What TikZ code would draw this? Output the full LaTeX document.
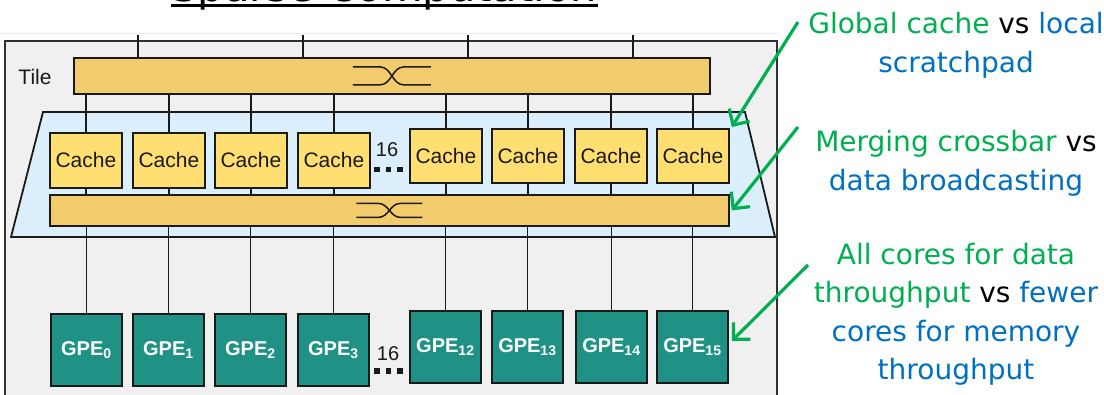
\documentclass[tikz,border=0pt]{standalone}
\usepackage{fontspec}
\setmainfont{Liberation Sans}
\newfontfamily\tah{DejaVu Sans}
\usetikzlibrary{arrows.meta}
\definecolor{tilebg}{HTML}{F0F0F0}
\definecolor{trapbg}{HTML}{DAEEFC}
\definecolor{cachey}{HTML}{FFDF72}
\definecolor{xbary}{HTML}{F2CB6C}
\definecolor{gpeteal}{HTML}{1F9185}
\definecolor{dk}{HTML}{1A1A1A}
\definecolor{ogreen}{HTML}{00B050}
\definecolor{oblue}{HTML}{0070C0}
\begin{document}
\begin{tikzpicture}[x=1pt,y=-1pt,
  box/.style={draw=dk, line width=1.8pt, inner sep=0pt, anchor=north west},
  cachebox/.style={box, fill=cachey, minimum width=72pt, minimum height=55pt,
    font=\fontsize{21}{25}\selectfont, text=dk},
  gpebox/.style={box, fill=gpeteal, minimum width=71pt, minimum height=72pt,
    font=\fontsize{20}{24}\selectfont\bfseries, text=white},
  xbar/.style={box, fill=xbary},
  wire/.style={draw=dk, line width=1.6pt},
  xsym/.style={draw=dk, line width=1.5pt},
  numlab/.style={font=\fontsize{20}{24}\selectfont, text=dk, inner sep=0pt},
  dotsq/.style={fill=dk},
  rtxt/.style={font=\tah\fontsize{28}{34}\selectfont, anchor=base, inner sep=0pt},
  garrow/.style={draw=ogreen, line width=3.2pt, -{Straight Barb[length=12pt,width=24pt]}}
]
\useasboundingbox (0,0) rectangle (1104,395);
\clip (0,0) rectangle (1104,395);
\fill[white] (0,0) rectangle (1104,395);

% title (cut off at the top, as in the reference)
\node[font=\tah\fontsize{41.7}{48}\selectfont, anchor=base west, inner sep=0pt] (title) at (171,2) {Sparse Computation};
\draw[line width=3pt] ([yshift=-4pt]title.base west) -- ([yshift=-4pt]title.base east);

% faint shadow line and tile frame
\draw[gray!15, line width=1pt] (0,34) -- (780,34);
\draw[fill=tilebg, draw=dk!90, line width=1.8pt] (5,41) rectangle (777,420);
\node[font=\fontsize{21}{24}\selectfont, text=dk, inner sep=0pt] (tile) at (35,77) {Tile};

% trapezoid
\draw[fill=trapbg, draw=dk, line width=1.8pt] (43,112) -- (745,112) -- (775,237) -- (11,237) -- cycle;

% crossbars
\node[xbar, minimum width=636pt, minimum height=36pt] (xtop) at (73,57) {};
\node[xbar, minimum width=679pt, minimum height=31pt] (xbot) at (49,194) {};

% caches
\node[cachebox] (c1) at (49,132) {Cache};
\node[cachebox] (c2) at (132,132) {Cache};
\node[cachebox] (c3) at (214,132) {Cache};
\node[cachebox] (c4) at (297,132) {Cache};
\node[cachebox, minimum height=54pt] (c5) at (409,128) {Cache};
\node[cachebox, minimum height=54pt] (c6) at (491,128) {Cache};
\node[cachebox, minimum height=54pt] (c7) at (574,128) {Cache};
\node[cachebox, minimum height=54pt] (c8) at (656,128) {Cache};

% GPEs
\node[gpebox] (g1) at (50,313) {GPE\textsubscript{0}};
\node[gpebox] (g2) at (132,313) {GPE\textsubscript{1}};
\node[gpebox] (g3) at (214,313) {GPE\textsubscript{2}};
\node[gpebox] (g4) at (297,313) {GPE\textsubscript{3}};
\node[gpebox] (g5) at (409,310) {GPE\textsubscript{12}};
\node[gpebox] (g6) at (491,310) {GPE\textsubscript{13}};
\node[gpebox] (g7) at (575,310) {GPE\textsubscript{14}};
\node[gpebox] (g8) at (656,310) {GPE\textsubscript{15}};

% wires
\coordinate (t1) at (138,35);
\coordinate (t2) at (303,35);
\coordinate (t3) at (468,35);
\coordinate (t4) at (633,35);
\foreach \t in {t1,t2,t3,t4}{
  \draw[wire] (\t) -- (\t |- xtop.north);
}
\foreach \k in {1,...,8}{
  \draw[wire] (c\k.north |- xtop.south) -- (c\k.north);
  \draw[wire] (c\k.south) -- (c\k.south |- xbot.north);
  \draw[wire] (g\k.north |- xbot.south) -- (g\k.north);
}

% crossbar symbols
\draw[xsym] ([shift={(-39,-9)}]xtop.center) -- ++(27,0) to[out=0,in=180] ++(24,18) -- ++(27,0);
\draw[xsym] ([shift={(-39,9)}]xtop.center) -- ++(27,0) to[out=0,in=180] ++(24,-18) -- ++(27,0);
\draw[xsym] ([shift={(-33,-7)}]xbot.center) -- ++(22,0) to[out=0,in=180] ++(22,14) -- ++(22,0);
\draw[xsym] ([shift={(-33,7)}]xbot.center) -- ++(22,0) to[out=0,in=180] ++(22,-14) -- ++(22,0);

% "16" and dots
\node[numlab] (n16a) at (387,150) {16};
\node[numlab] (n16b) at (388,354) {16};
\foreach \x in {377,388.5,400}{
  \fill[dotsq] (\x-2.8,169.5-2.8) rectangle (\x+2.8,169.5+2.8);
  \fill[dotsq] (\x-2.8,371-2.8) rectangle (\x+2.8,371+2.8);
}

% right-hand texts
\node[rtxt] (r1a) at (956,34) {\textcolor{ogreen}{Global cache} vs \textcolor{oblue}{local}};
\node[rtxt, text=oblue] (r1b) at (956,73) {scratchpad};
\node[rtxt] (r2a) at (956,152) {\textcolor{ogreen}{Merging crossbar} vs};
\node[rtxt, text=oblue] (r2b) at (956,191) {data broadcasting};
\node[rtxt, text=ogreen] (r3a) at (956,265) {All cores for data};
\node[rtxt] (r3b) at (956,303) {\textcolor{ogreen}{throughput} vs \textcolor{oblue}{fewer}};
\node[rtxt, text=oblue] (r3c) at (956,342) {cores for memory};
\node[rtxt, text=oblue] (r3d) at (956,380) {throughput};

% green arrows
\coordinate (a1) at (798,22);
\coordinate (a2) at (798,127);
\coordinate (a3) at (808,265);
\draw[garrow] (a1) -- ([shift={(2,-1)}]c8.north east);
\draw[garrow] (a2) -- ([xshift=2pt]xbot.east);
\draw[garrow] (a3) -- ([shift={(3,-6)}]g8.east);
\end{tikzpicture}
\end{document}
